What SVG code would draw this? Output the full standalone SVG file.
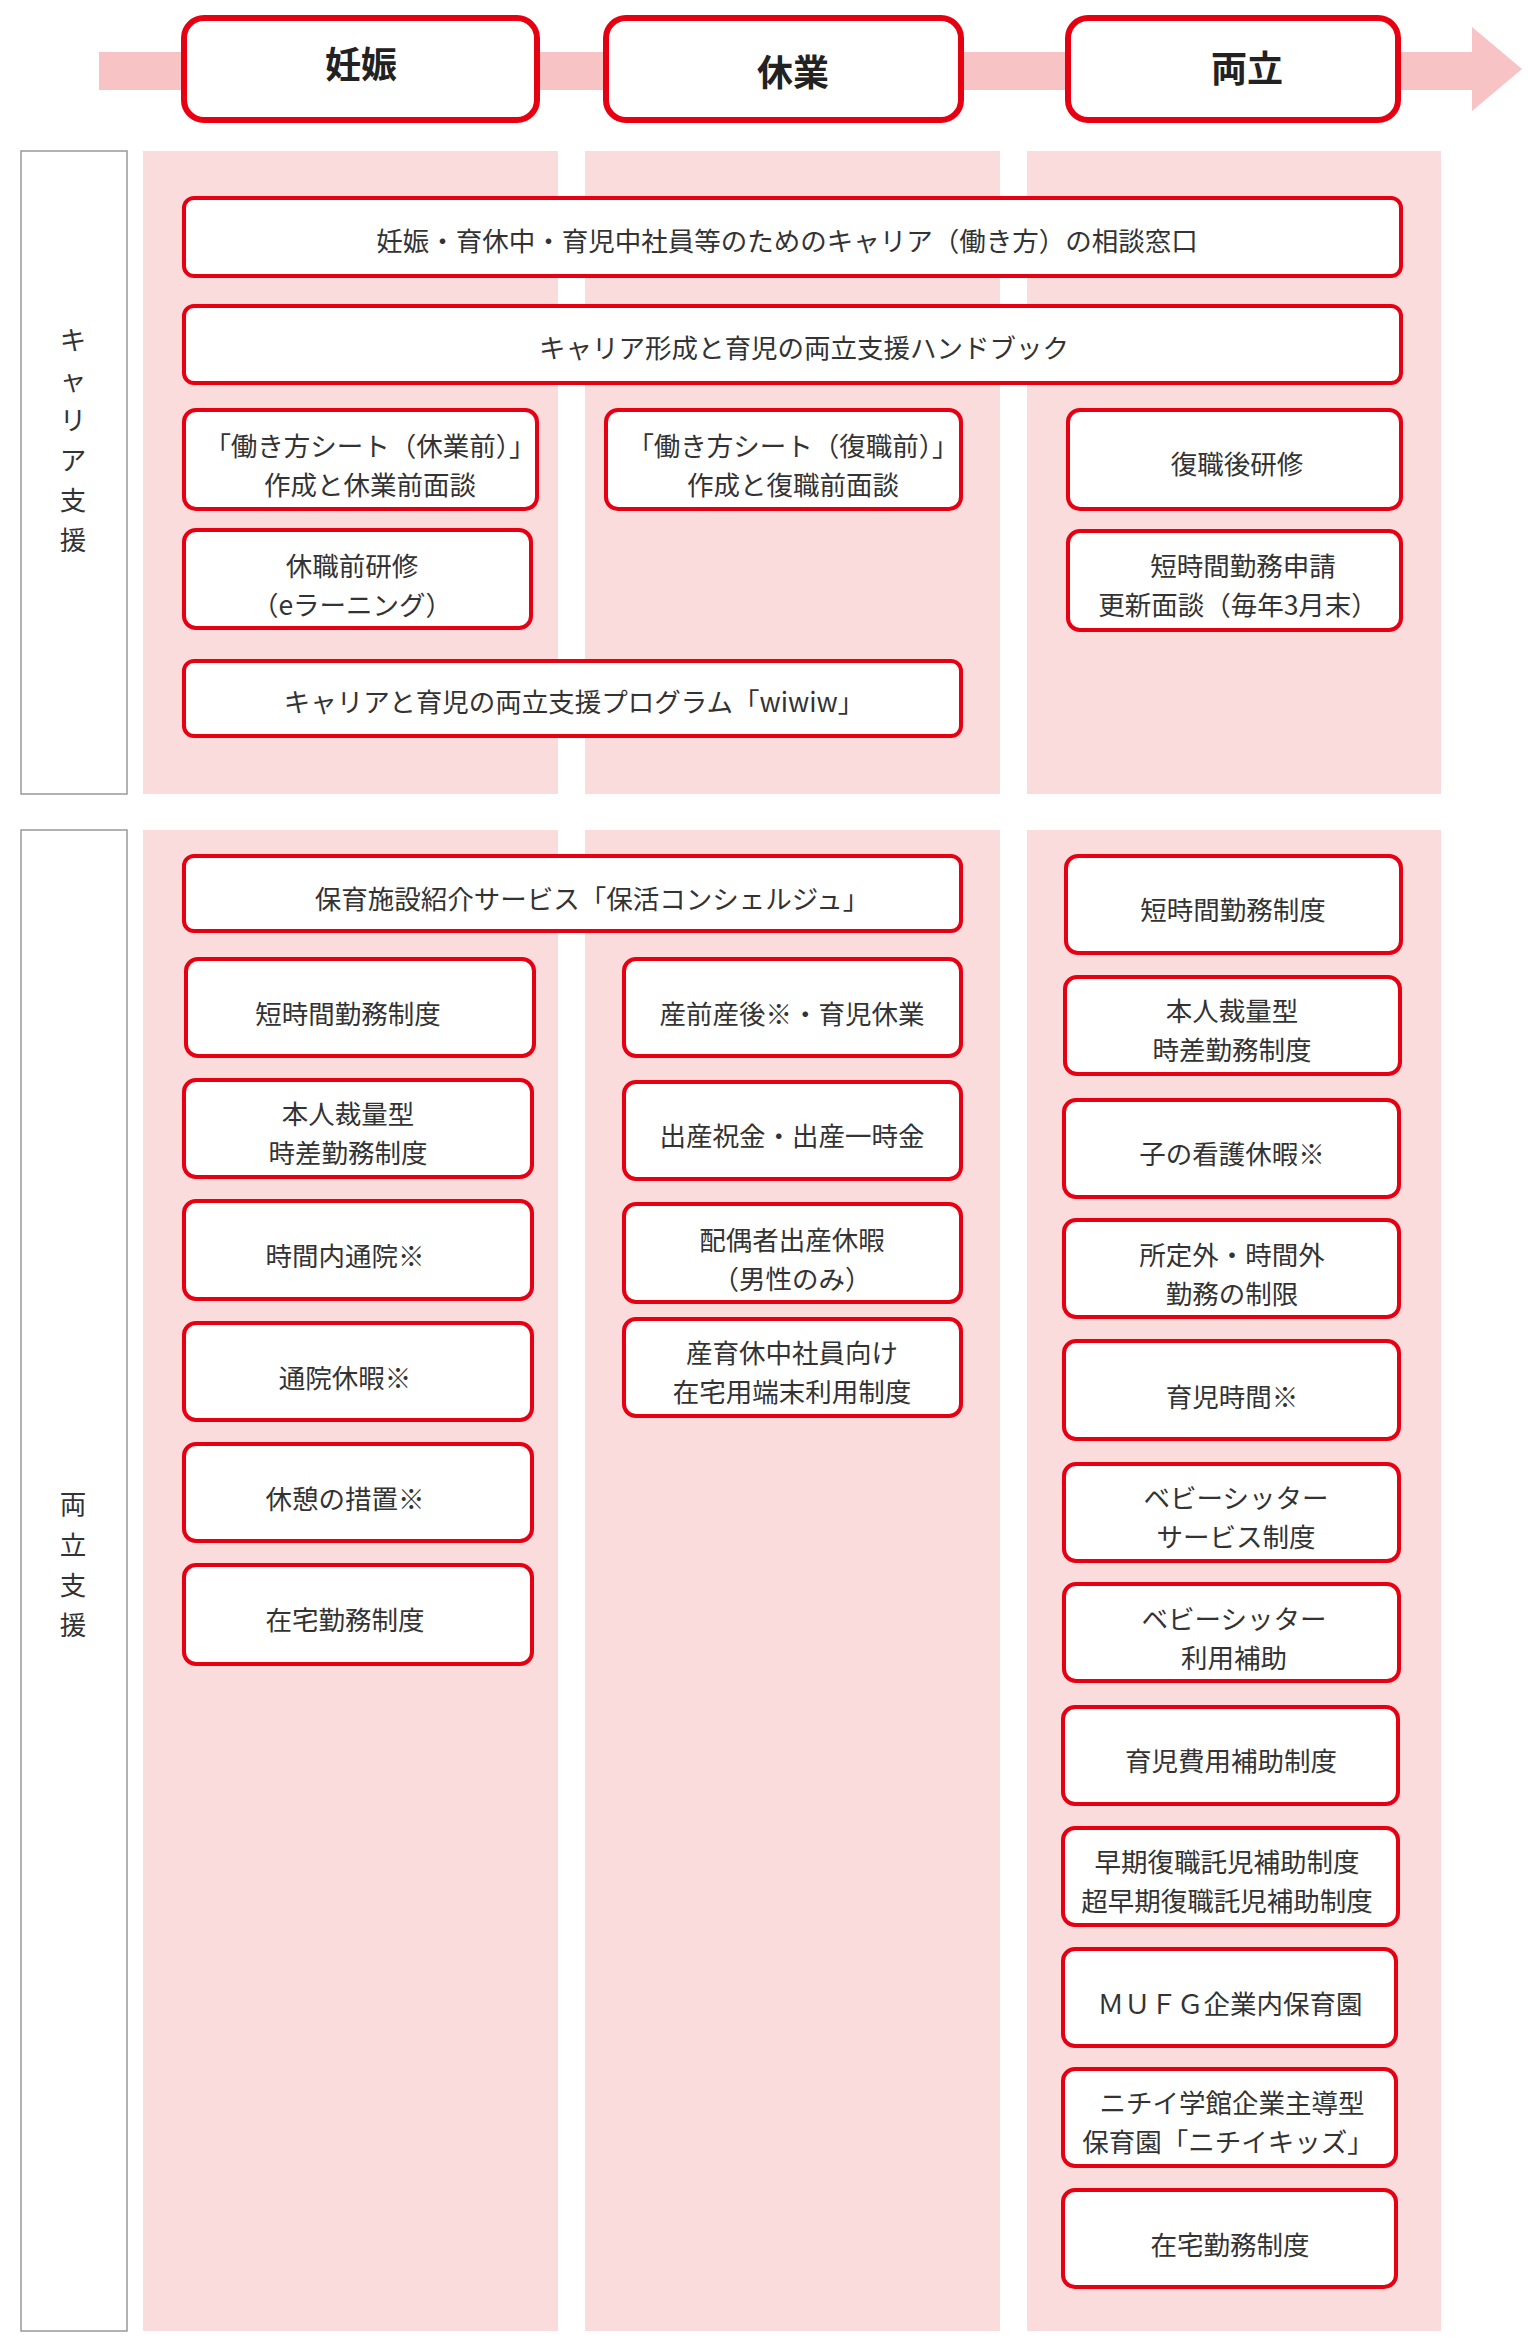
<svg xmlns="http://www.w3.org/2000/svg" width="1528" height="2338" viewBox="0 0 1528 2338">
<style>
text{font-family:"Noto Sans CJK JP","Noto Sans",sans-serif;fill:#333;text-anchor:middle}
.t{font-size:26.5px;transform:translateY(5px)}
.h{font-size:36px;font-weight:bold;fill:#222}
.b{fill:#fff;stroke:#e60012;stroke-width:4}
.hb{fill:#fff;stroke:#e60012;stroke-width:6}
.col{fill:#fadcdd}
.lab{fill:#fff;stroke:#999;stroke-width:1.5}
</style>
<rect width="1528" height="2338" fill="#fff"/>
<g id="timeline">
<rect x="99" y="52" width="1376" height="38" fill="#f7c3c4"/>
<polygon points="1472,27 1522,69 1472,111" fill="#f7c3c4"/>
</g>
<g id="phase-ninshin"><rect class="hb" x="184" y="18" width="353" height="102" rx="20"/><text class="h" x="361" y="78">妊娠</text></g>
<g id="phase-kyugyo"><rect class="hb" x="606" y="18" width="355" height="102" rx="20"/><text class="h" x="793" y="86">休業</text></g>
<g id="phase-ryoritsu"><rect class="hb" x="1068" y="18" width="330" height="102" rx="20"/><text class="h" x="1247" y="82">両立</text></g>
<g id="columns">
<rect class="col" x="143" y="151" width="415" height="643"/>
<rect class="col" x="585" y="151" width="415" height="643"/>
<rect class="col" x="1027" y="151" width="414" height="643"/>
<rect class="col" x="143" y="830" width="415" height="1501"/>
<rect class="col" x="585" y="830" width="415" height="1501"/>
<rect class="col" x="1027" y="830" width="414" height="1501"/>
</g>
<g id="label-career"><rect class="lab" x="21" y="151" width="106" height="643"/>
<text class="t" x="73" y="345">キ</text><text class="t" x="73" y="385">ャ</text><text class="t" x="73" y="425">リ</text><text class="t" x="73" y="465">ア</text><text class="t" x="73" y="505">支</text><text class="t" x="73" y="545">援</text></g>
<g id="label-ryoritsu"><rect class="lab" x="21" y="830" width="106" height="1501"/>
<text class="t" x="73" y="1509">両</text><text class="t" x="73" y="1550">立</text><text class="t" x="73" y="1590">支</text><text class="t" x="73" y="1630">援</text></g>

<g id="n1"><rect class="b" x="184" y="198" width="1217" height="78" rx="10"/><text class="t" x="787" y="246">妊娠・育休中・育児中社員等のためのキャリア（働き方）の相談窓口</text></g>
<g id="n2"><rect class="b" x="184" y="306" width="1217" height="77" rx="10"/><text class="t" x="804" y="353">キャリア形成と育児の両立支援ハンドブック</text></g>
<g id="n3"><rect class="b" x="184" y="410" width="353" height="99" rx="12"/><text class="t" x="370" y="451">「働き方シート（休業前）」</text><text class="t" x="370" y="490">作成と休業前面談</text></g>
<g id="n4"><rect class="b" x="606" y="410" width="355" height="99" rx="12"/><text class="t" x="793" y="451">「働き方シート（復職前）」</text><text class="t" x="793" y="490">作成と復職前面談</text></g>
<g id="n5"><rect class="b" x="1068" y="410" width="333" height="99" rx="12"/><text class="t" x="1237" y="469">復職後研修</text></g>
<g id="n6"><rect class="b" x="184" y="530" width="347" height="98" rx="12"/><text class="t" x="352" y="571">休職前研修</text><text class="t" x="352" y="610">（eラーニング）</text></g>
<g id="n7"><rect class="b" x="1068" y="531" width="333" height="99" rx="12"/><text class="t" x="1243" y="571">短時間勤務申請</text><text class="t" x="1238" y="610">更新面談（毎年3月末）</text></g>
<g id="n8"><rect class="b" x="184" y="661" width="777" height="75" rx="10"/><text class="t" x="574" y="707">キャリアと育児の両立支援プログラム「wiwiw」</text></g>

<g id="n9"><rect class="b" x="184" y="856" width="777" height="75" rx="10"/><text class="t" x="592" y="904">保育施設紹介サービス「保活コンシェルジュ」</text></g>
<g id="l1"><rect class="b" x="186" y="959" width="348" height="97" rx="12"/><text class="t" x="348" y="1019">短時間勤務制度</text></g>
<g id="l2"><rect class="b" x="184" y="1080" width="348" height="97" rx="12"/><text class="t" x="348" y="1119">本人裁量型</text><text class="t" x="348" y="1158">時差勤務制度</text></g>
<g id="l3"><rect class="b" x="184" y="1201" width="348" height="98" rx="12"/><text class="t" x="345" y="1261">時間内通院※</text></g>
<g id="l4"><rect class="b" x="184" y="1323" width="348" height="97" rx="12"/><text class="t" x="345" y="1383">通院休暇※</text></g>
<g id="l5"><rect class="b" x="184" y="1444" width="348" height="97" rx="12"/><text class="t" x="345" y="1504">休憩の措置※</text></g>
<g id="l6"><rect class="b" x="184" y="1565" width="348" height="99" rx="12"/><text class="t" x="345" y="1625">在宅勤務制度</text></g>
<g id="m1"><rect class="b" x="624" y="959" width="337" height="97" rx="12"/><text class="t" x="792" y="1019">産前産後※・育児休業</text></g>
<g id="m2"><rect class="b" x="624" y="1082" width="337" height="97" rx="12"/><text class="t" x="792" y="1141">出産祝金・出産一時金</text></g>
<g id="m3"><rect class="b" x="624" y="1204" width="337" height="98" rx="12"/><text class="t" x="792" y="1245">配偶者出産休暇</text><text class="t" x="792" y="1284">（男性のみ）</text></g>
<g id="m4"><rect class="b" x="624" y="1319" width="337" height="97" rx="12"/><text class="t" x="792" y="1358">産育休中社員向け</text><text class="t" x="792" y="1397">在宅用端末利用制度</text></g>
<g id="r1"><rect class="b" x="1066" y="856" width="335" height="97" rx="12"/><text class="t" x="1233" y="915">短時間勤務制度</text></g>
<g id="r2"><rect class="b" x="1065" y="977" width="335" height="97" rx="12"/><text class="t" x="1232" y="1016">本人裁量型</text><text class="t" x="1232" y="1055">時差勤務制度</text></g>
<g id="r3"><rect class="b" x="1064" y="1100" width="335" height="97" rx="12"/><text class="t" x="1232" y="1159">子の看護休暇※</text></g>
<g id="r4"><rect class="b" x="1064" y="1220" width="335" height="97" rx="12"/><text class="t" x="1232" y="1260">所定外・時間外</text><text class="t" x="1232" y="1299">勤務の制限</text></g>
<g id="r5"><rect class="b" x="1064" y="1341" width="335" height="98" rx="12"/><text class="t" x="1232" y="1402">育児時間※</text></g>
<g id="r6"><rect class="b" x="1064" y="1464" width="335" height="97" rx="12"/><text class="t" x="1236" y="1503">ベビーシッター</text><text class="t" x="1236" y="1542">サービス制度</text></g>
<g id="r7"><rect class="b" x="1064" y="1584" width="335" height="97" rx="12"/><text class="t" x="1234" y="1624">ベビーシッター</text><text class="t" x="1234" y="1663">利用補助</text></g>
<g id="r8"><rect class="b" x="1063" y="1707" width="335" height="97" rx="12"/><text class="t" x="1231" y="1766">育児費用補助制度</text></g>
<g id="r9"><rect class="b" x="1063" y="1828" width="335" height="97" rx="12"/><text class="t" x="1227" y="1867">早期復職託児補助制度</text><text class="t" x="1227" y="1906">超早期復職託児補助制度</text></g>
<g id="r10"><rect class="b" x="1063" y="1949" width="333" height="97" rx="12"/><text class="t" x="1230" y="2009">ＭＵＦＧ企業内保育園</text></g>
<g id="r11"><rect class="b" x="1063" y="2069" width="333" height="97" rx="12"/><text class="t" x="1232" y="2108">ニチイ学館企業主導型</text><text class="t" x="1228" y="2147">保育園「ニチイキッズ」</text></g>
<g id="r12"><rect class="b" x="1063" y="2190" width="333" height="97" rx="12"/><text class="t" x="1230" y="2250">在宅勤務制度</text></g>
<g id="connectors"></g>
</svg>
